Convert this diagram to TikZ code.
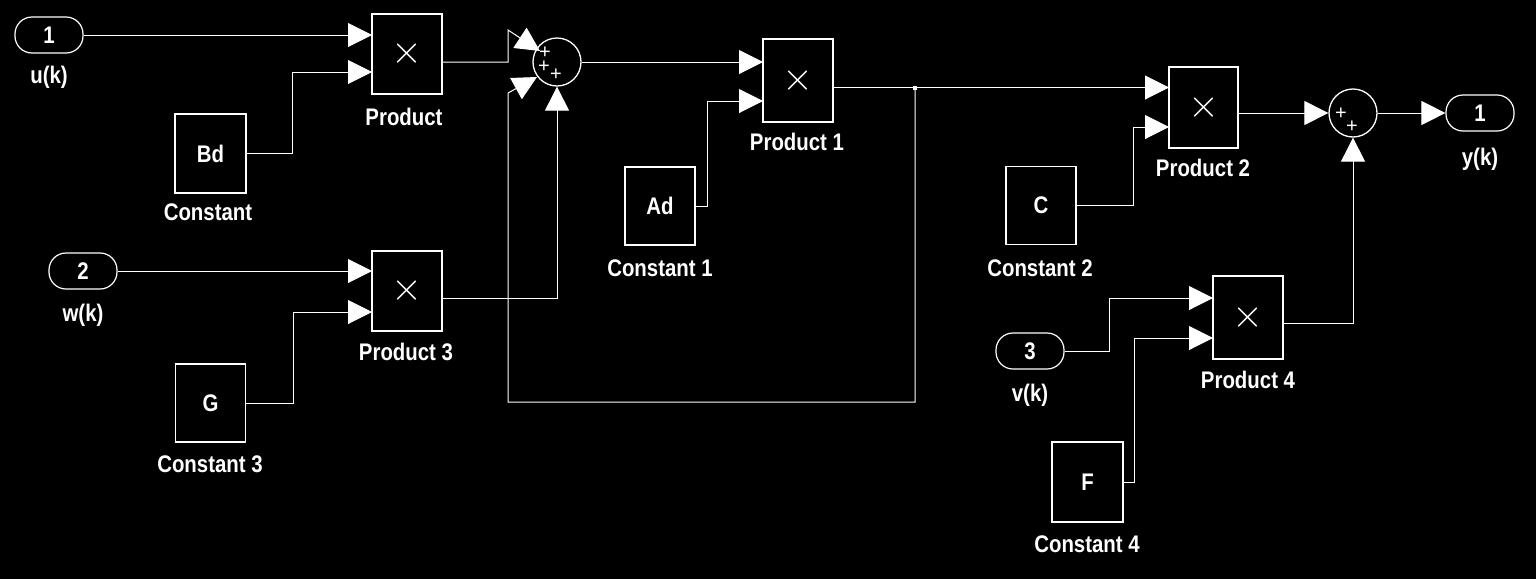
\documentclass[tikz,border=0pt]{standalone}
\usepackage{fontspec}
\setmainfont{Liberation Sans}
\newfontfamily\lbl[FakeStretch=0.85]{Liberation Sans}
\usetikzlibrary{arrows.meta}
\newcommand{\prodsym}{\scalebox{1.6}{$\times$}}
\begin{document}
\begin{tikzpicture}[x=1pt,y=-1pt,
  every node/.style={text=white, font=\lbl\bfseries\fontsize{24}{24}\selectfont, inner sep=0pt},
  blk/.style={draw=white, line width=1.6pt, fill=black},
  prodbox/.style={blk, minimum width=70pt, minimum height=80pt, font=\fontsize{24.88}{24.88}\selectfont},
  constbox/.style={blk, minimum width=70pt, minimum height=78pt},
  port/.style={draw=white, line width=1.2pt, rounded corners=17pt, minimum width=68pt, minimum height=36pt},
  sumc/.style={circle, draw=white, line width=1.3pt, minimum size=48pt},
  sig/.style={draw=white, line width=1pt},
  arr/.style={sig, -{Triangle[length=24pt,width=24pt,fill=white]}},
  lab/.style={anchor=base},
  plus/.style={font=\rmfamily\mdseries\fontsize{20}{20}\selectfont}
]
\fill[black] (0,0) rectangle (1536,579);
\useasboundingbox (0,0) rectangle (1536,579);

% blocks
\node[port] (in1) at (49,35) {1};
\node[lab] (lu) at (49,83.5) {u(k)};
\node[prodbox] (p0) at (407,54) {\prodsym};
\node[lab] (lp0) at (404,125.5) {Product};
\node[constbox, minimum width=71pt, minimum height=79pt] (cbd) at (210.5,153.5) {Bd};
\node[lab] (lcbd) at (208,220.5) {Constant};
\node[port] (in2) at (83,271) {2};
\node[lab] (lw) at (83,321.5) {w(k)};
\node[prodbox] (p3) at (407,291) {\prodsym};
\node[lab] (lp3) at (406,360.5) {Product 3};
\node[constbox] (cg) at (210.5,403) {G};
\node[lab] (lcg) at (210,472.5) {Constant 3};
\node[sumc] (s1) at (557,62) {};
\node[plus] (s1p1) at (545,53) {+};
\node[plus] (s1p2) at (544,67) {+};
\node[plus] (s1p3) at (556,75) {+};
\node[prodbox, minimum height=83pt] (p1) at (798,80.5) {\prodsym};
\node[lab] (lp1) at (797,150.5) {Product 1};
\node[constbox] (cad) at (660,206) {Ad};
\node[lab] (lcad) at (660,276.5) {Constant 1};
\node[prodbox, minimum width=69pt, minimum height=81pt] (p2) at (1203.5,107.5) {\prodsym};
\node[lab] (lp2) at (1203,176.5) {Product 2};
\node[constbox] (cc) at (1041,205.5) {C};
\node[lab] (lcc) at (1040,276.5) {Constant 2};
\node[sumc] (s2) at (1353,113) {};
\node[plus] (s2p1) at (1341,114) {+};
\node[plus] (s2p2) at (1352,127) {+};
\node[port] (out1) at (1480,113) {1};
\node[lab] (ly) at (1480,165.5) {y(k)};
\node[port] (in3) at (1030,351) {3};
\node[lab] (lv) at (1030,401.5) {v(k)};
\node[prodbox, minimum height=83pt] (p4) at (1248,317.5) {\prodsym};
\node[lab] (lp4) at (1248,388.5) {Product 4};
\node[constbox, minimum width=71pt, minimum height=80pt] (cf) at (1087.5,482) {F};
\node[lab] (lcf) at (1087,552.5) {Constant 4};

% ports
\coordinate (p0i1) at (372,35); \coordinate (p0i2) at (372,72); \coordinate (p0o) at (442,62);
\coordinate (p3i1) at (372,271); \coordinate (p3i2) at (372,312); \coordinate (p3o) at (442,298);
\coordinate (p1i1) at (763,62); \coordinate (p1i2) at (763,101); \coordinate (p1o) at (833,87.5);
\coordinate (p2i1) at (1169,87.5); \coordinate (p2i2) at (1169,127); \coordinate (p2o) at (1238,113);
\coordinate (p4i1) at (1213,298); \coordinate (p4i2) at (1213,338); \coordinate (p4o) at (1283,323);
\coordinate (s1a) at (540,51); \coordinate (s1b) at (537,77);
\coordinate (j) at (915,87.5);

% connectors
\draw[arr] (in1.east) -- (p0i1);
\draw[arr] (cbd.east) -- ++(46,0) |- (p0i2);
\draw[arr] (p0o) -- (508,62) -- (508,30) -- (s1a);
\draw[arr] (in2.east) -- (p3i1);
\draw[arr] (cg.east) -- ++(47,0) |- (p3i2);
\draw[arr] (p3o) -| (s1.south);
\draw[arr] (s1.east) -- (p1i1);
\draw[arr] (cad.east) -- ++(12,0) |- (p1i2);
\draw[arr] (p1o) -- (p2i1);
\node[fill=white, minimum size=4pt] (jd) at (j) {};
\draw[arr] (j) -- (915,402) -- (508,402) -- (508,93) -- (s1b);
\draw[arr] (cc.east) -- ++(57,0) |- (p2i2);
\draw[arr] (p2o) -- (s2.west);
\draw[arr] (s2.east) -- (out1.west);
\draw[arr] (in3.east) -- ++(45,0) |- (p4i1);
\draw[arr] (cf.east) -- ++(11,0) |- (p4i2);
\draw[arr] (p4o) -| (s2.south);
\end{tikzpicture}
\end{document}
